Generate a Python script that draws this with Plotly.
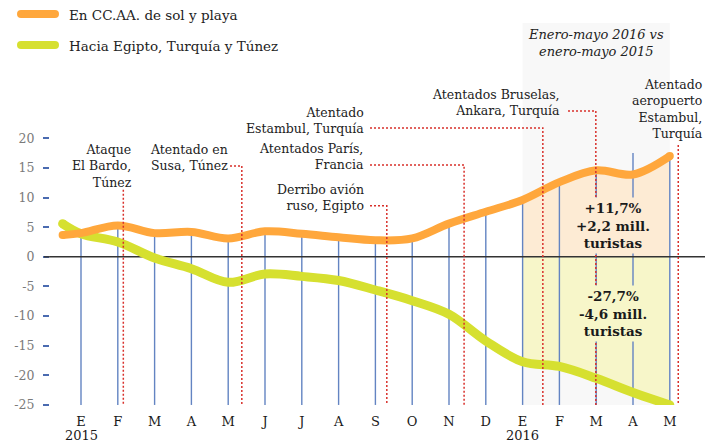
import plotly.graph_objects as go

# ---------------- data ----------------
months = ["E", "F", "M", "A", "M", "J", "J", "A", "S", "O", "N", "D",
          "E", "F", "M", "A", "M"]
year_labels = ["2015", "2016"]
year_x = [0, 12]
month_x = list(range(len(months)))

# series start half a month before January 2015
series_x = [-0.5] + month_x
sol_playa = [3.7, 4.0, 5.3, 4.0, 4.2, 3.1, 4.3, 3.9, 3.3, 2.8, 3.1, 5.6,
             7.6, 9.6, 12.6, 14.6, 13.9, 17.0]
egipto_turquia_tunez = [5.6, 3.9, 2.5, -0.2, -2.0, -4.3, -2.9, -3.3, -4.0,
                        -5.6, -7.4, -9.7, -14.2, -17.7, -18.5, -20.5, -22.9, -25.0]
# top of the monthly drop lines (follows the orange series; April 2016 longer)
drop_top = [4.0, 5.3, 4.0, 4.2, 3.1, 4.3, 3.9, 3.3, 2.8, 3.1, 5.6, 7.6,
            9.6, 12.6, 14.6, 17.5, 17.0]

events = ["Ataque<br>El Bardo,<br>Túnez",
          "Atentado en<br>Susa, Túnez",
          "Derribo avión<br>ruso, Egipto",
          "Atentados París,<br>Francia",
          "Atentado<br>Estambul, Turquía",
          "Atentados Bruselas,<br>Ankara, Turquía",
          "Atentado<br>aeropuerto<br>Estambul,<br>Turquía"]
event_x = [1.15, 4.37, 8.31, 10.41, 12.55, 13.99, 16.23]

y_ticks = [-25, -20, -15, -10, -5, 0, 5, 10, 15, 20]
period_start, period_end = 12, 16

# ---------------- styling / geometry ----------------
ORANGE = "#FFA73C"
GREEN = "#D6E030"
ORANGE_FILL = "#FDEBD4"
GREEN_FILL = "#F7F6C9"
GREY_BAND = "#F8F8F8"
BLUE = "#6384C2"
RED = "#D8302B"
FONT = "DejaVu Serif"

OFF = 8                      # page body margin
W, H = 720 - OFF, 444 - OFF
PLOT_L, PLOT_R = 50, 705     # page pixels of plot area
PLOT_T, PLOT_B = 8, 405.3
L, R = PLOT_L - OFF, W - (PLOT_R - OFF)
T, B = PLOT_T - OFF, H - (PLOT_B - OFF)
PW, PH = PLOT_R - PLOT_L, PLOT_B - PLOT_T
X0_PX, PITCH = 81.0, 36.8    # page pixel of first month, pixels per month
Y0_PX, UNIT = 257.0, 5.93    # page pixel of zero, pixels per unit

x_range = [(PLOT_L - X0_PX) / PITCH, (PLOT_R - X0_PX) / PITCH]
y_range = [-(PLOT_B - Y0_PX) / UNIT, (Y0_PX - PLOT_T) / UNIT]


def dx(px):          # page pixel -> data x
    return (px - X0_PX) / PITCH


def pxp(px):         # page pixel -> paper x
    return (px - PLOT_L) / PW


def pyp(py):         # page pixel -> paper y
    return (PLOT_B - py) / PH


fig = go.Figure()

# filled comparison areas
s0 = period_start + 1
fig.add_trace(go.Scatter(x=series_x[s0:], y=sol_playa[s0:], mode="lines",
                         line=dict(width=0, shape="spline", color=ORANGE_FILL),
                         fill="tozeroy", fillcolor=ORANGE_FILL,
                         hoverinfo="skip", showlegend=False))
fig.add_trace(go.Scatter(x=series_x[s0:], y=egipto_turquia_tunez[s0:], mode="lines",
                         line=dict(width=0, shape="spline", color=GREEN_FILL),
                         fill="tozeroy", fillcolor=GREEN_FILL,
                         hoverinfo="skip", showlegend=False))

# monthly drop lines
vx, vy = [], []
for xi, top in zip(month_x, drop_top):
    vx += [xi, xi, None]
    vy += [y_ticks[0], top, None]
fig.add_trace(go.Scatter(x=vx, y=vy, mode="lines",
                         line=dict(color=BLUE, width=1.4),
                         hoverinfo="skip", showlegend=False))

# zero line
fig.add_trace(go.Scatter(x=x_range, y=[0, 0], mode="lines",
                         line=dict(color="#333333", width=1.4),
                         hoverinfo="skip", showlegend=False))

# series
fig.add_trace(go.Scatter(x=series_x, y=egipto_turquia_tunez, mode="lines",
                         line=dict(color=GREEN, width=9, shape="spline", smoothing=1.0),
                         name="Hacia Egipto, Turquía y Túnez", showlegend=False))
fig.add_trace(go.Scatter(x=[series_x[0], series_x[-1]],
                         y=[egipto_turquia_tunez[0], egipto_turquia_tunez[-1]],
                         mode="markers", marker=dict(color=GREEN, size=9),
                         hoverinfo="skip", showlegend=False))
fig.add_trace(go.Scatter(x=series_x, y=sol_playa, mode="lines",
                         line=dict(color=ORANGE, width=8, shape="spline", smoothing=1.0),
                         name="En CC.AA. de sol y playa", showlegend=False))
fig.add_trace(go.Scatter(x=[series_x[0], series_x[-1]],
                         y=[sol_playa[0], sol_playa[-1]],
                         mode="markers", marker=dict(color=ORANGE, size=8),
                         hoverinfo="skip", showlegend=False))

shapes = []
# grey comparison band
shapes.append(dict(type="rect", xref="x", yref="paper", x0=period_start, x1=period_end,
                   y0=0, y1=pyp(23), fillcolor=GREY_BAND, line=dict(width=0),
                   layer="below"))
# zero line stub left of plot
shapes.append(dict(type="line", xref="paper", yref="y", x0=pxp(44), x1=0.0,
                   y0=0, y1=0, line=dict(color="#333333", width=1.4)))

# event connectors: (page x where horizontal starts or None, page y)
conn = [(None, 190), (230, 166), (370, 206), (370, 165), (370, 128), (568, 111), (None, 145)]
for ex, (hx, hy) in zip(event_x, conn):
    if hx is None:
        path = f"M {ex},{pyp(hy)} L {ex},0"
    else:
        path = f"M {dx(hx)},{pyp(hy)} L {ex},{pyp(hy)} L {ex},0"
    shapes.append(dict(type="path", xref="x", yref="paper", path=path,
                       line=dict(color=RED, width=1.5, dash="2px,2px"), layer="above"))


# legend marks
def legend_mark(py, color, w):
    r = w / 2
    out = [dict(type="line", xref="paper", yref="paper", x0=pxp(17 + r), x1=pxp(59 - r),
                y0=pyp(py), y1=pyp(py), line=dict(color=color, width=w))]
    for cx in (17 + r, 59 - r):
        out.append(dict(type="circle", xref="paper", yref="paper",
                        x0=pxp(cx - r), x1=pxp(cx + r), y0=pyp(py + r), y1=pyp(py - r),
                        fillcolor=color, line=dict(width=0)))
    return out


shapes += legend_mark(14, ORANGE, 8)
shapes += legend_mark(45, GREEN, 8)

annotations = []
ann_font = dict(family=FONT, size=12.5, color="#222222")
# event labels: (page x, anchor, center page y)
event_text_pos = [(134, "right", 166), (148, "left", 158), (366, "right", 198),
                  (366, "right", 156.5), (366, "right", 121), (562, "right", 103),
                  (705, "right", 109.5)]
for txt, (px, anc, cy) in zip(events, event_text_pos):
    annotations.append(dict(text=txt, xref="paper", yref="paper", x=pxp(px), y=pyp(cy),
                            xanchor=anc, yanchor="middle", align=anc, showarrow=False,
                            font=ann_font))

# legend labels
leg_font = dict(family=FONT, size=13.5, color="#222222")
annotations.append(dict(text="En CC.AA. de sol y playa", xref="paper", yref="paper",
                        x=pxp(67), y=pyp(15.5), xanchor="left", yanchor="middle",
                        showarrow=False, font=leg_font))
annotations.append(dict(text="Hacia Egipto, Turquía y Túnez", xref="paper", yref="paper",
                        x=pxp(67), y=pyp(46), xanchor="left", yanchor="middle",
                        showarrow=False, font=leg_font))

# years under the month axis
for yl, yx in zip(year_labels, year_x):
    annotations.append(dict(text=yl, xref="x", yref="paper", x=yx, y=pyp(436),
                            xanchor="center", yanchor="middle", showarrow=False,
                            font=dict(family=FONT, size=13, color="#1a1a1a")))

# period header
annotations.append(dict(text="<i>Enero-mayo 2016 vs<br>enero-mayo 2015</i>",
                        xref="x", yref="paper", x=(period_start + period_end) / 2,
                        y=pyp(43), xanchor="center", yanchor="middle", showarrow=False,
                        font=dict(family=FONT, size=13, color="#222222")))
# period results
annotations.append(dict(text="<b>+11,7%<br>+2,2 mill.<br>turistas</b>",
                        xref="paper", yref="paper", x=pxp(613), y=pyp(226),
                        xanchor="center", yanchor="middle", showarrow=False,
                        bgcolor=ORANGE_FILL, borderpad=2,
                        font=dict(family=FONT, size=13.5, color="#1a1a1a")))
annotations.append(dict(text="<b>-27,7%<br>-4,6 mill.<br>turistas</b>",
                        xref="paper", yref="paper", x=pxp(613), y=pyp(314),
                        xanchor="center", yanchor="middle", showarrow=False,
                        bgcolor=GREEN_FILL, borderpad=2,
                        font=dict(family=FONT, size=13.5, color="#1a1a1a")))

fig.update_layout(
    width=W, height=H,
    margin=dict(l=L, r=R, t=T, b=B, pad=0),
    paper_bgcolor="white", plot_bgcolor="white",
    showlegend=False,
    shapes=shapes, annotations=annotations,
    xaxis=dict(range=x_range, tickmode="array", tickvals=month_x, ticktext=months,
               showgrid=False, zeroline=False, showline=False, ticks="",
               ticklabelstandoff=7,
               tickfont=dict(family=FONT, size=13, color="#1a1a1a")),
    yaxis=dict(range=y_range, tickmode="array", tickvals=y_ticks,
               ticktext=[str(v) for v in y_ticks],
               showgrid=False, zeroline=False, showline=False,
               ticks="outside", ticklen=6, tickwidth=1.5, tickcolor="#4a6bb0",
               ticklabelstandoff=6,
               tickfont=dict(family=FONT, size=12.5, color="#7a7a7a")),
)

fig.write_html("out.html")
